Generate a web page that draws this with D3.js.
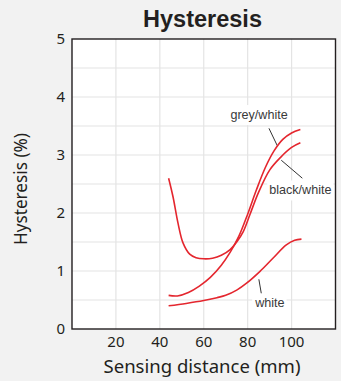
<!DOCTYPE html>
<html>
<head>
<meta charset="utf-8">
<script src="https://cdn.jsdelivr.net/npm/d3@7"></script>
<style>
  html, body { margin: 0; padding: 0; background: #f2f2f2; }
  svg { display: block; }
</style>
</head>
<body>
<svg id="chart" width="341" height="381"></svg>
<script>
// ---------- data ----------
const title = "Hysteresis";
const xTitle = "Sensing distance (mm)";
const yTitle = "Hysteresis (%)";
const xTicks = [20, 40, 60, 80, 100];
const yTicks = [0, 1, 2, 3, 4, 5];
const xDomain = [0, 120];
const yDomain = [0, 5];

const greyWhiteX = [44, 48, 53, 58, 63, 68, 72, 76, 80, 84, 88, 92, 96, 100, 104];
const greyWhiteY = [0.58, 0.57, 0.63, 0.74, 0.89, 1.10, 1.32, 1.60, 1.98, 2.40, 2.78, 3.07, 3.27, 3.38, 3.44];

const blackWhiteX = [44, 46, 48.3, 50.6, 53.6, 56.5, 60, 64, 68, 72, 75, 78, 81, 85, 90, 95, 100, 104];
const blackWhiteY = [2.60, 2.28, 1.82, 1.48, 1.29, 1.23, 1.21, 1.22, 1.27, 1.37, 1.50, 1.68, 1.97, 2.36, 2.74, 2.96, 3.13, 3.21];

const whiteX = [44, 52, 60, 66, 70, 75, 79.5, 85.5, 91.5, 97.6, 101.4, 104.5];
const whiteY = [0.40, 0.44, 0.49, 0.54, 0.58, 0.67, 0.79, 0.99, 1.22, 1.45, 1.53, 1.55];

const labelNames = ["grey/white", "black/white", "white"];
const labelX = [85.2, 104, 90.1];
const labelY = [3.62, 2.32, 0.374];
const leaderX1 = [89.7, 95.3, 85.1];
const leaderY1 = [3.46, 2.91, 0.857];
const leaderX2 = [93.5, 104.9, 86.2];
const leaderY2 = [3.16, 2.60, 0.616];

// ---------- layout ----------
(function () {
const svg = d3.select("#chart");
const mLeft = 72, mRight = 335.5, mTop = 39, mBottom = 329;
const x = d3.scaleLinear().domain(xDomain).range([mLeft, mRight]);
const y = d3.scaleLinear().domain(yDomain).range([mBottom, mTop]);

const red = "#e4262e";
const ink = "#231f20";
const tickFont = "'Noto Sans', sans-serif";

// plot background
svg.append("rect").attr("x", mLeft).attr("y", mTop)
  .attr("width", mRight - mLeft).attr("height", mBottom - mTop).attr("fill", "#fff");

// grid
const g = svg.append("g");
g.selectAll("line.v").data(xTicks).join("line")
  .attr("x1", d => x(d)).attr("x2", d => x(d))
  .attr("y1", mTop).attr("y2", mBottom)
  .attr("stroke", "#e4e4e4").attr("stroke-width", 1.2);
const hGrid = d3.range(0.5, 5, 0.5);
g.selectAll("line.h").data(hGrid).join("line")
  .attr("x1", mLeft).attr("x2", mRight)
  .attr("y1", d => y(d)).attr("y2", d => y(d))
  .attr("stroke", "#e4e4e4").attr("stroke-width", 1.2);

// labels with white background boxes
const labelG = svg.append("g");
const labelFont = "'Liberation Sans', Arial, sans-serif";
const texts = labelNames.map((n, i) => labelG.append("text")
    .attr("x", x(labelX[i])).attr("y", y(labelY[i]))
    .attr("text-anchor", "middle")
    .attr("font-family", labelFont)
    .attr("font-size", 12.6)
    .attr("fill", "#3a3a3a")
    .text(n));
const padTop = [3, 3, 12];
texts.forEach((t, i) => {
  const bb = t.node().getBBox();
  labelG.insert("rect", "text")
    .attr("x", bb.x - 2).attr("y", bb.y - padTop[i])
    .attr("width", bb.width + 4).attr("height", bb.height + padTop[i] + 3)
    .attr("fill", "#fff");
});

// frame
svg.append("rect").attr("x", mLeft).attr("y", mTop)
  .attr("width", mRight - mLeft).attr("height", mBottom - mTop)
  .attr("fill", "none").attr("stroke", ink).attr("stroke-width", 1.4);

// leader lines
svg.append("g").selectAll("line").data(labelNames).join("line")
  .attr("x1", (d, i) => x(leaderX1[i])).attr("y1", (d, i) => y(leaderY1[i]))
  .attr("x2", (d, i) => x(leaderX2[i])).attr("y2", (d, i) => y(leaderY2[i]))
  .attr("stroke", "#333").attr("stroke-width", 1);

// curves
const line = d3.line().x(d => x(d[0])).y(d => y(d[1])).curve(d3.curveCatmullRom.alpha(0.5));
const series = [
  d3.zip(greyWhiteX, greyWhiteY),
  d3.zip(blackWhiteX, blackWhiteY),
  d3.zip(whiteX, whiteY)
];
svg.append("g").selectAll("path").data(series).join("path")
  .attr("d", line).attr("fill", "none")
  .attr("stroke", red).attr("stroke-width", 1.6);

// tick labels
svg.append("g").selectAll("text").data(yTicks).join("text")
  .attr("x", 65).attr("y", d => y(d)).attr("dy", "0.36em")
  .attr("text-anchor", "end")
  .attr("font-family", tickFont).attr("font-size", 15)
  .attr("fill", ink).text(d => d);
svg.append("g").selectAll("text").data(xTicks).join("text")
  .attr("x", d => x(d)).attr("y", 347)
  .attr("text-anchor", "middle")
  .attr("font-family", tickFont).attr("font-size", 15)
  .attr("fill", ink).text(d => d);

function fit(t, target) {
  const w = t.node().getComputedTextLength();
  const fs = parseFloat(t.attr("font-size"));
  t.attr("font-size", (fs * target / w).toFixed(2));
}

// axis titles
const xt = svg.append("text")
  .attr("x", 202).attr("y", 373).attr("text-anchor", "middle")
  .attr("font-family", tickFont).attr("font-size", 20)
  .attr("fill", ink).text(xTitle);
fit(xt, 197);

const yt = svg.append("text")
  .attr("transform", "translate(27,189) rotate(-90)")
  .attr("text-anchor", "middle")
  .attr("font-family", tickFont).attr("font-size", 18)
  .attr("fill", ink).text(yTitle);
fit(yt, 112);

// title
const tt = svg.append("text")
  .attr("x", 202.5).attr("y", 27).attr("text-anchor", "middle")
  .attr("font-family", "'Liberation Sans', Arial, sans-serif")
  .attr("font-weight", "bold").attr("font-size", 23)
  .attr("fill", ink).text(title);
fit(tt, 119);
})();
</script>
</body>
</html>
